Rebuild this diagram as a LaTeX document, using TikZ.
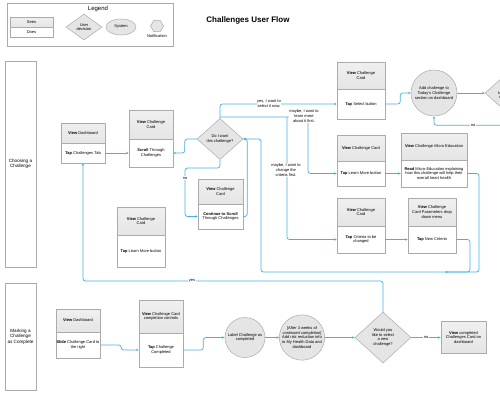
\documentclass[tikz,border=0pt]{standalone}
\usepackage{fontspec}
\setmainfont{Liberation Sans}
\usetikzlibrary{arrows.meta,shapes.geometric,calc}
\definecolor{flow}{HTML}{45B0E4}
\definecolor{edgegray}{HTML}{ABABAB}
\definecolor{shade}{HTML}{E5E5E5}
\tikzset{
  tiny/.style={font=\fontsize{4}{4.7}\selectfont, align=center},
  seepart/.style={tiny, rectangle, draw=edgegray, line width=0.5pt, top color=shade!60, bottom color=shade, inner sep=0pt},
  doespart/.style={tiny, rectangle, draw=edgegray, line width=0.5pt, fill=white, inner sep=0pt},
  decision/.style={tiny, diamond, draw=edgegray, line width=0.5pt, fill=shade, inner sep=0pt, aspect=1},
  sysnode/.style={tiny, circle, draw=edgegray, line width=0.5pt, fill=shade, inner sep=0pt},
  lanebox/.style={rectangle, draw=edgegray, line width=0.5pt, fill=white, font=\fontsize{4.6}{5.6}\selectfont, align=center, inner sep=0pt},
  flowline/.style={draw=flow, line width=0.7pt, rounded corners=2.5pt, -{Stealth[length=2.6pt,width=2.4pt]}},
  lbl/.style={tiny, fill=white, inner sep=0.6pt}
}
\begin{document}
\begin{tikzpicture}[x=1pt,y=-1pt]
\clip (0,0) rectangle (500,400);
\fill[white] (0,0) rectangle (500,400);

% Legend
\node[rectangle, draw=edgegray, line width=0.5pt, minimum width=166, minimum height=43, inner sep=0pt] (legend) at (90,24.5) {};
\node[font=\fontsize{6}{7}\selectfont] (legtitle) at (98,8.5) {Legend};
\node[seepart, minimum width=43, minimum height=10] (legsees) at (31.5,22) {Sees};
\node[doespart, minimum width=43, minimum height=10] (legdoes) at (31.5,32) {Does};
\node[decision, minimum width=36, minimum height=26] (legdec) at (84,27) {User\\decision};
\node[tiny, ellipse, draw=edgegray, line width=0.5pt, fill=shade, inner sep=0pt, minimum width=30, minimum height=16] (legsys) at (121,27) {System};
\node[regular polygon, regular polygon sides=6, draw=edgegray, line width=0.5pt, fill=shade, minimum size=13, inner sep=0pt] (leghex) at (157,26) {};
\node[tiny] (legnote) at (157,36.5) {Notification};

% Title
\node[font=\fontsize{8}{9.6}\selectfont\bfseries] (title) at (248,20) {Challenges User Flow};

% Lanes
\node[lanebox, minimum width=31, minimum height=206] (lane1) at (20.5,164) {Choosing a\\Challenge};
\node[lanebox, minimum width=31, minimum height=107] (lane2) at (20.5,336.5) {Marking a\\Challenge\\as Complete};

% B1
\node[seepart, minimum width=44, minimum height=20] (B1T) at (83,133) {\textbf{View} Dashboard};
\node[doespart, minimum width=44, minimum height=20] (B1B) at (83,153) {\textbf{Tap} Challenges Tab};
% B2
\node[seepart, minimum width=44, minimum height=29] (B2T) at (151,124.5) {\textbf{View} Challenge\\Card};
\node[doespart, minimum width=44, minimum height=28] (B2B) at (151,153) {\textbf{Scroll} Through\\Challenges};
% D1
\node[decision, minimum width=46, minimum height=41] (D1) at (220,139) {Do I want\\this challenge?};
% B4
\node[seepart, minimum width=45, minimum height=25] (B4T) at (220.5,191.5) {\textbf{View} Challenge\\Card};
\node[doespart, minimum width=45, minimum height=25] (B4B) at (220.5,216.5) {\textbf{Continue to Scroll}\\Through Challenges};
% B5
\node[seepart, minimum width=48, minimum height=28] (B5T) at (141,221) {\textbf{View} Challenge\\Card};
\node[doespart, minimum width=48, minimum height=32] (B5B) at (141,251) {\textbf{Tap} Learn More button};
% B6
\node[seepart, minimum width=48, minimum height=27] (B6T) at (361,75.5) {\textbf{View} Challenge\\Card};
\node[doespart, minimum width=48, minimum height=30] (B6B) at (361,104) {\textbf{Tap} Select button};
% B7
\node[seepart, minimum width=48, minimum height=26] (B7T) at (361,148) {\textbf{View} Challenge Card};
\node[doespart, minimum width=48, minimum height=25] (B7B) at (361,173.5) {\textbf{Tap} Learn More button};
% B8
\node[seepart, minimum width=48, minimum height=28] (B8T) at (361,212) {\textbf{View} Challenge\\Card};
\node[doespart, minimum width=48, minimum height=27] (B8B) at (361,239.5) {\textbf{Tap} Criteria to be\\changed};
% B9
\node[seepart, minimum width=66, minimum height=27] (B9T) at (434,146.5) {\textbf{View} Challenge Micro Education};
\node[doespart, minimum width=66, minimum height=27] (B9B) at (434,173.5) {\textbf{Read} Micro-Education explaining\\how this challenge will help their\\overall heart health};
% B10
\node[seepart, minimum width=48, minimum height=28] (B10T) at (432,212) {\textbf{View} Challenge\\Card Parameters drop\\down menu};
\node[doespart, minimum width=48, minimum height=27] (B10B) at (432,239.5) {\textbf{Tap} New Criteria};
% C1
\node[sysnode, minimum size=46] (C1) at (434,93) {Add challenge to\\Today's Challenge\\section on dashboard};
% D2 (partly outside the picture, as in the reference)
\node[decision, minimum width=56, minimum height=50] (D2) at (513,93) {Would you like\\to select another\\challenge now?};

% Bottom lane
\node[seepart, minimum width=44, minimum height=23] (B11T) at (78,320.5) {\textbf{View} Dashboard};
\node[doespart, minimum width=44, minimum height=26] (B11B) at (78,345) {\textbf{Slide} Challenge Card to\\the right};
\node[seepart, minimum width=44, minimum height=33] (B12T) at (161,316.5) {\textbf{View} Challenge Card\\completion controls};
\node[doespart, minimum width=44, minimum height=34] (B12B) at (161,350) {\textbf{Tap} Challenge\\Completed};
\node[sysnode, minimum size=40] (C2) at (245,337.5) {Label Challenge as\\completed};
\node[sysnode, minimum size=44] (C3) at (302,337.5) {[After 3 weeks of\\continued completion]\\Add risk reduction info\\to My Health Data and\\dashboard};
\node[decision, minimum width=56, minimum height=51] (D3) at (383,337.5) {Would you\\like to select\\a new\\challenge?};
\node[seepart, minimum width=45, minimum height=32] (B13) at (463.5,337.5) {\textbf{View} completed\\Challenges Card on\\dashboard};

% Junction coordinates
\coordinate (jn) at (220,117);
\coordinate (jc) at (287,117);
\coordinate (mergept) at (445,272);

% Connectors, upper lane
\draw[flowline] (B1B.east) -- (B2B.west);
\draw[flowline] (D1.west) -- ++(-12,0) |- (B2B.east);
\draw[flowline] (D1.south) -- (220,168) -- (185,168) |- (B4B.west);
\node[lbl] (lblno1) at (185,178) {no};
\draw[flowline] (B4B.east) -- ++(4,0) |- (D1.east);
\draw[flowline] (D1.north) |- (B6B.west);
\node[lbl] (lblyes1) at (269,103.5) {yes, I want to\\select it now.};
\draw[flowline] (jn) -- (308,117) |- (B7B.west);
\draw[flowline] (jc) |- (B8B.west);
\node[lbl] (lbllearn) at (304,116) {maybe, I want to\\learn more\\about it first.};
\node[lbl] (lblcrit) at (286,170) {maybe, I want to\\change the\\criteria first.};
\draw[flowline] (B6B.east) -- ++(15,0) |- (C1.west);
\draw[flowline] (B7B.east) -- (B9B.west);
\draw[flowline] (B8B.east) -- (B10B.west);
\draw[flowline] (C1.east) -- (D2.west);
\draw[flowline] (D2.south) -- ++(0,7) -| (C1.south);
\node[lbl] (lblno2) at (473,125) {no};
\draw[flowline] (B9B.east) -- (479,173.5) -- (479,272) -- (261,272) |- (D1.east);
\draw[flowline] (B10B.east) -- (470,239.5) |- (mergept);

% Connectors, lower lane
\draw[flowline] (B11B.east) -- ++(21,0) |- (B12B.west);
\draw[flowline] (B12B.east) -- ++(20,0) |- (C2.west);
\draw[flowline] (C2.east) -- (C3.west);
\draw[flowline] (C3.east) -- (D3.west);
\draw[flowline] (D3.east) -- (B13.west);
\node[lbl] (lblno3) at (426,337.5) {no};
\draw[flowline] (D3.north) -- (383,281) -- (83,281) -- (B1B.south);
\node[lbl] (lblyes2) at (192,281) {yes};
\end{tikzpicture}
\end{document}
